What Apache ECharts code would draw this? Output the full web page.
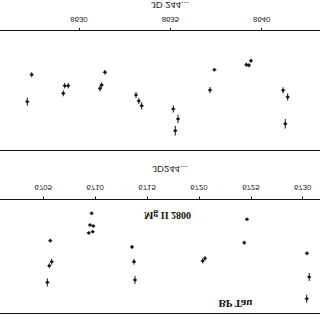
<!DOCTYPE html>
<html><head><meta charset="utf-8">
<script src="https://cdn.jsdelivr.net/npm/echarts@6/dist/echarts.min.js"></script>
<style>html,body{margin:0;padding:0;background:#fff;}#c{width:320px;height:320px;transform:scaleY(-1);transform-origin:50% 50%;}</style>
</head><body><div id="c"></div>
<script>
// Panel A: JD 2448630... (optical)
const jdA   = [8627.17,8627.41,8629.14,8629.22,8629.41,8631.15,8631.24,8631.42,8633.12,8633.27,8633.43,8635.16,8635.42,8635.27,8637.17,8637.41,8639.16,8639.30,8639.41,8641.17,8641.42,8641.29];
const fluxA = [58.9,36.4,51.9,45.6,45.6,47.8,45.0,34.4,53.3,58.3,62.3,65.0,73.3,83.1,49.2,32.3,28.1,28.6,24.8,49.4,55.0,77.3];
const errA  = [3.3,2.0,2.5,2.2,2.2,2.5,2.2,2.0,2.5,2.5,3.0,3.0,3.5,4.0,2.5,1.5,1.8,1.8,1.8,2.5,3.0,4.0];
const ticksA = [8630,8635,8640];
const rangeA = [8625.676, 8643.19];
// Panel B: JD 2446705... Mg II 2800
const jdB   = [6709.66,6709.50,6709.82,6709.38,6709.76,6705.67,6705.81,6705.58,6705.39,6713.55,6713.74,6713.84,6724.63,6724.37,6720.58,6720.36,6730.41,6730.63,6730.39];
const fluxB = [12.1,22.4,23.3,29.4,28.3,36.2,54.7,58.2,72.8,41.7,54.7,70.7,17.4,38.0,51.7,54.0,47.3,68.1,87.2];
const errB  = [1.5,1.5,1.5,1.5,1.5,1.8,2.5,2.2,3.5,1.8,2.5,3.5,1.5,1.8,2.0,2.2,1.8,3.5,3.5];
const ticksB = [6705,6710,6715,6720,6725,6730];
const rangeB = [6700.827, 6731.67];
const titleA = 'JD 244...';
const titleB = 'JD244...';
const labelLine = 'Mg II 2800';
const labelStar = 'BP Tau';

function toData(x, y, e){ return x.map((v,i)=>[v, y[i], e[i]]); }
function renderErr(params, api){
  const x = api.value(0), y = api.value(1), e = api.value(2);
  const c = api.coord([x,y]), hi = api.coord([x,y+e]), lo = api.coord([x,y-e]);
  const st = {stroke:'#111', lineWidth:1};
  return {type:'group', children:[
    {type:'line', shape:{x1:c[0],y1:hi[1],x2:c[0],y2:lo[1]}, style:st},
    {type:'line', shape:{x1:c[0]-2,y1:c[1],x2:c[0]+2,y2:c[1]}, style:st},
    {type:'rect', shape:{x:c[0]-1.2,y:c[1]-1.2,width:2.4,height:2.4}, style:{fill:'#111'}}
  ]};
}
function bottomAxis(gi, range, ticks){
  return {gridIndex:gi, type:'value', position:'bottom', min:range[0], max:range[1],
    axisLine:{lineStyle:{color:'#111',width:1}},
    axisTick:{length:3, lineStyle:{color:'#111'}, customValues:ticks},
    axisLabel:{fontSize:7.8, color:'#222', fontFamily:'Liberation Sans', margin:8, customValues:ticks, formatter:v=>String(Math.round(v))},
    splitLine:{show:false}};
}
function topAxis(gi, range){
  return {gridIndex:gi, type:'value', position:'top', min:range[0], max:range[1],
    axisLine:{onZero:false, lineStyle:{color:'#111',width:1}}, axisTick:{show:false}, axisLabel:{show:false}, splitLine:{show:false}};
}
const chart = echarts.init(document.getElementById('c'), null, {renderer:'svg'});
chart.setOption({
  animation:false,
  grid:[
    {left:0, right:0, top:6.7, bottom:199.5, outerBoundsMode:'none', containLabel:false},
    {left:0, right:0, top:169, bottom:31, outerBoundsMode:'none', containLabel:false}
  ],
  xAxis:[ bottomAxis(0, rangeB, ticksB), topAxis(0, rangeB), bottomAxis(1, rangeA, ticksA), topAxis(1, rangeA) ],
  yAxis:[
    {gridIndex:0, type:'value', min:0, max:100, show:false},
    {gridIndex:1, type:'value', min:0, max:100, show:false}
  ],
  series:[
    {type:'custom', xAxisIndex:0, yAxisIndex:0, data:toData(jdB,fluxB,errB), renderItem:renderErr, clip:false},
    {type:'custom', xAxisIndex:2, yAxisIndex:1, data:toData(jdA,fluxA,errA), renderItem:renderErr, clip:false}
  ],
  graphic:[
    {type:'text', x:170, y:151, style:{text:titleB, font:'9.5px "Liberation Sans"', fill:'#222', textAlign:'center', textVerticalAlign:'middle'}},
    {type:'text', x:170, y:315, style:{text:titleA, font:'9.5px "Liberation Sans"', fill:'#222', textAlign:'center', textVerticalAlign:'middle'}},
    {type:'text', x:167.5, y:105, style:{text:labelLine, font:'bold 10px "Liberation Serif"', fill:'#111', textAlign:'center', textVerticalAlign:'middle'}},
    {type:'text', x:235.5, y:16, style:{text:labelStar, font:'bold 11px "Liberation Serif"', fill:'#111', textAlign:'center', textVerticalAlign:'middle'}}
  ]
});
</script></body></html>
